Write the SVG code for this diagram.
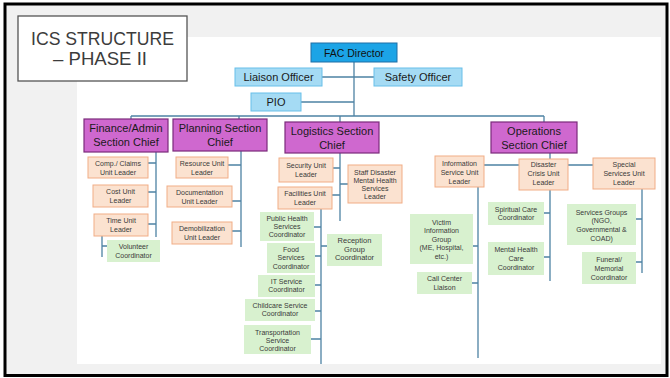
<svg xmlns="http://www.w3.org/2000/svg" width="670" height="378" viewBox="0 0 670 378">
<style>
text{font-family:"Liberation Sans",Arial,sans-serif;text-anchor:middle}
.bg{fill:#f1f1f1;stroke:#000;stroke-width:3}
.panel{fill:#fff}
.tbox{fill:#fff;stroke:#555;stroke-width:1.3}
.ttl{font-size:18px;fill:#3c3c3c}
.fac{fill:#1ca4e6;stroke:#1f6fa6;stroke-width:1}
.staff{fill:#a5dbf4;stroke:#68bfe9;stroke-width:1}
.chief{fill:#cf68cf;stroke:#7b2b7b;stroke-width:1.2}
.unit{fill:#fbe2d0;stroke:#f1ad86;stroke-width:1}
.coord{fill:#d8f1cf}
.t11{font-size:11px;fill:#1a1a1a}
.t10{font-size:10.5px;fill:#111}
.t7{font-size:7px;fill:#3a3a3a}
.c{fill:none;stroke:#4e83a4;stroke-width:1.3}
</style>
<rect x="0" y="0" width="670" height="378" fill="#fff"/>
<rect class="bg" x="5" y="4" width="662" height="371.5"/>
<rect class="panel" x="77" y="37" width="584" height="327"/>
<g id="title">
<rect class="tbox" x="18" y="16" width="169" height="65"/>
<text class="ttl" x="102.5" y="45" textLength="143" lengthAdjust="spacingAndGlyphs">ICS STRUCTURE</text>
<text class="ttl" x="100" y="65" textLength="94" lengthAdjust="spacingAndGlyphs">– PHASE II</text>
</g>
<g id="connectors" class="c">
<path d="M354 62V116M322 77H374M301 102H354M131 116H544M131 116V119M239 116V119M340 116V122M544 116V122"/>
<path d="M156 152V237M148 163H156M148 192H156M148 224H156M102 236V257M102 246H107"/>
<path d="M241 151V247M228 165H241M232 201H241M232 231H241"/>
<path d="M340 153V221M333 168H340M340 184H348M332 195H340"/>
<path d="M321 209V364M314 227H321M321 246H327M315 256H321M315 285H321M315 311H321M311 339H321"/>
<path d="M550 153V281M484 165H593M473 246H478M472 283H478M478 187V358M544 213H550M544 257H550M642 189V273M636 219H642M636 262H642"/>
</g>
<g id="fac-director"><rect class="fac" x="311" y="43" width="86" height="19"/><text class="t10" x="354" y="56.5">FAC Director</text></g>
<g id="liaison-officer"><rect class="staff" x="235" y="68" width="87" height="18"/><text class="t11" x="278.5" y="81">Liaison Officer</text></g>
<g id="safety-officer"><rect class="staff" x="374" y="68" width="88" height="18"/><text class="t11" x="418" y="81">Safety Officer</text></g>
<g id="pio"><rect class="staff" x="251" y="93" width="50" height="18"/><text class="t11" x="276" y="106">PIO</text></g>

<g id="finance-chief"><rect class="chief" x="84" y="119" width="84" height="33"/><text class="t11" x="126" y="132">Finance/Admin</text><text class="t11" x="126" y="146">Section Chief</text></g>
<g id="planning-chief"><rect class="chief" x="173" y="119" width="94" height="32"/><text class="t11" x="220" y="132">Planning Section</text><text class="t11" x="220" y="146">Chief</text></g>
<g id="logistics-chief"><rect class="chief" x="285" y="122" width="94" height="31"/><text class="t11" x="332" y="134.5">Logistics Section</text><text class="t11" x="332" y="148.5">Chief</text></g>
<g id="operations-chief"><rect class="chief" x="491" y="122" width="86" height="31"/><text class="t11" x="534" y="134.5">Operations</text><text class="t11" x="534" y="148.5">Section Chief</text></g>

<g id="comp-claims"><rect class="unit" x="88" y="157" width="60" height="21"/><text class="t7" x="118" y="165.5">Comp./ Claims</text><text class="t7" x="118" y="174.5">Unit Leader</text></g>
<g id="cost-unit"><rect class="unit" x="93" y="185" width="55" height="22"/><text class="t7" x="120.5" y="194">Cost Unit</text><text class="t7" x="120.5" y="203">Leader</text></g>
<g id="time-unit"><rect class="unit" x="94" y="214" width="54" height="22"/><text class="t7" x="121" y="223">Time Unit</text><text class="t7" x="121" y="232">Leader</text></g>
<g id="volunteer"><rect class="coord" x="107" y="240" width="53" height="22"/><text class="t7" x="133.5" y="249">Volunteer</text><text class="t7" x="133.5" y="258">Coordinator</text></g>

<g id="resource-unit"><rect class="unit" x="176" y="157" width="52" height="21"/><text class="t7" x="202" y="165.5">Resource Unit</text><text class="t7" x="202" y="174.5">Leader</text></g>
<g id="documentation-unit"><rect class="unit" x="167" y="186" width="65" height="21"/><text class="t7" x="199.5" y="194.5">Documentation</text><text class="t7" x="199.5" y="203.5">Unit Leader</text></g>
<g id="demobilization-unit"><rect class="unit" x="172" y="222" width="60" height="22"/><text class="t7" x="202" y="231">Demobilization</text><text class="t7" x="202" y="240">Unit Leader</text></g>

<g id="security-unit"><rect class="unit" x="279" y="158" width="54" height="24"/><text class="t7" x="306" y="167.5">Security Unit</text><text class="t7" x="306" y="176.5">Leader</text></g>
<g id="staff-mental-health"><rect class="unit" x="348" y="165" width="54" height="38"/><text class="t7" x="375" y="174.5">Staff Disaster</text><text class="t7" x="375" y="182.5">Mental Health</text><text class="t7" x="375" y="190.5">Services</text><text class="t7" x="375" y="198.5">Leader</text></g>
<g id="facilities-unit"><rect class="unit" x="278" y="187" width="54" height="22"/><text class="t7" x="305" y="196">Facilities Unit</text><text class="t7" x="305" y="205">Leader</text></g>
<g id="public-health"><rect class="coord" x="260" y="212" width="54" height="29"/><text class="t7" x="287" y="220.5">Public Health</text><text class="t7" x="287" y="228.5">Services</text><text class="t7" x="287" y="236.5">Coordinator</text></g>
<g id="reception-group"><rect class="coord" x="327" y="234" width="55" height="32"/><text class="t7" x="354.5" y="243" style="font-size:7.5px">Reception</text><text class="t7" x="354.5" y="251.5" style="font-size:7.5px">Group</text><text class="t7" x="354.5" y="260" style="font-size:7.5px">Coordinator</text></g>
<g id="food-services"><rect class="coord" x="267" y="243" width="48" height="30"/><text class="t7" x="291" y="251.5">Food</text><text class="t7" x="291" y="260">Services</text><text class="t7" x="291" y="268.5">Coordinator</text></g>
<g id="it-service"><rect class="coord" x="258" y="275" width="57" height="22"/><text class="t7" x="286.5" y="283.5">IT Service</text><text class="t7" x="286.5" y="291.5">Coordinator</text></g>
<g id="childcare-service"><rect class="coord" x="245" y="299" width="70" height="22"/><text class="t7" x="280" y="307.5">Childcare Service</text><text class="t7" x="280" y="315.5">Coordinator</text></g>
<g id="transportation-service"><rect class="coord" x="244" y="325" width="67" height="29"/><text class="t7" x="277.5" y="334.5">Transportation</text><text class="t7" x="277.5" y="342.5">Service</text><text class="t7" x="277.5" y="350.5">Coordinator</text></g>

<g id="information-service"><rect class="unit" x="435" y="156" width="49" height="31"/><text class="t7" x="459.5" y="165.5">Information</text><text class="t7" x="459.5" y="174.5">Service Unit</text><text class="t7" x="459.5" y="183.5">Leader</text></g>
<g id="disaster-crisis"><rect class="unit" x="519" y="159" width="49" height="31"/><text class="t7" x="543.5" y="167">Disaster</text><text class="t7" x="543.5" y="176">Crisis Unit</text><text class="t7" x="543.5" y="185">Leader</text></g>
<g id="special-services"><rect class="unit" x="593" y="158" width="62" height="31"/><text class="t7" x="624" y="166.5">Special</text><text class="t7" x="624" y="175.5">Services Unit</text><text class="t7" x="624" y="184.5">Leader</text></g>
<g id="victim-information"><rect class="coord" x="410" y="214" width="63" height="50"/><text class="t7" x="441.5" y="224.5">Victim</text><text class="t7" x="441.5" y="233">Information</text><text class="t7" x="441.5" y="241.5">Group</text><text class="t7" x="441.5" y="250">(ME, Hospital,</text><text class="t7" x="441.5" y="258.5">etc.)</text></g>
<g id="call-center"><rect class="coord" x="417" y="272" width="55" height="22"/><text class="t7" x="444.5" y="280.5">Call Center</text><text class="t7" x="444.5" y="289.5">Liaison</text></g>
<g id="spiritual-care"><rect class="coord" x="488" y="202" width="56" height="23"/><text class="t7" x="516" y="211.5">Spiritual Care</text><text class="t7" x="516" y="220">Coordinator</text></g>
<g id="mental-health-care"><rect class="coord" x="488" y="242" width="56" height="33"/><text class="t7" x="516" y="251.5">Mental Health</text><text class="t7" x="516" y="260.5">Care</text><text class="t7" x="516" y="269.5">Coordinator</text></g>
<g id="services-groups"><rect class="coord" x="567" y="204" width="69" height="41"/><text class="t7" x="601.5" y="214.5">Services Groups</text><text class="t7" x="601.5" y="223">(NGO,</text><text class="t7" x="601.5" y="231.5">Governmental &amp;</text><text class="t7" x="601.5" y="240.5">COAD)</text></g>
<g id="funeral-memorial"><rect class="coord" x="582" y="252" width="54" height="32"/><text class="t7" x="609" y="261.5">Funeral/</text><text class="t7" x="609" y="270.5">Memorial</text><text class="t7" x="609" y="279.5">Coordinator</text></g>
</svg>
